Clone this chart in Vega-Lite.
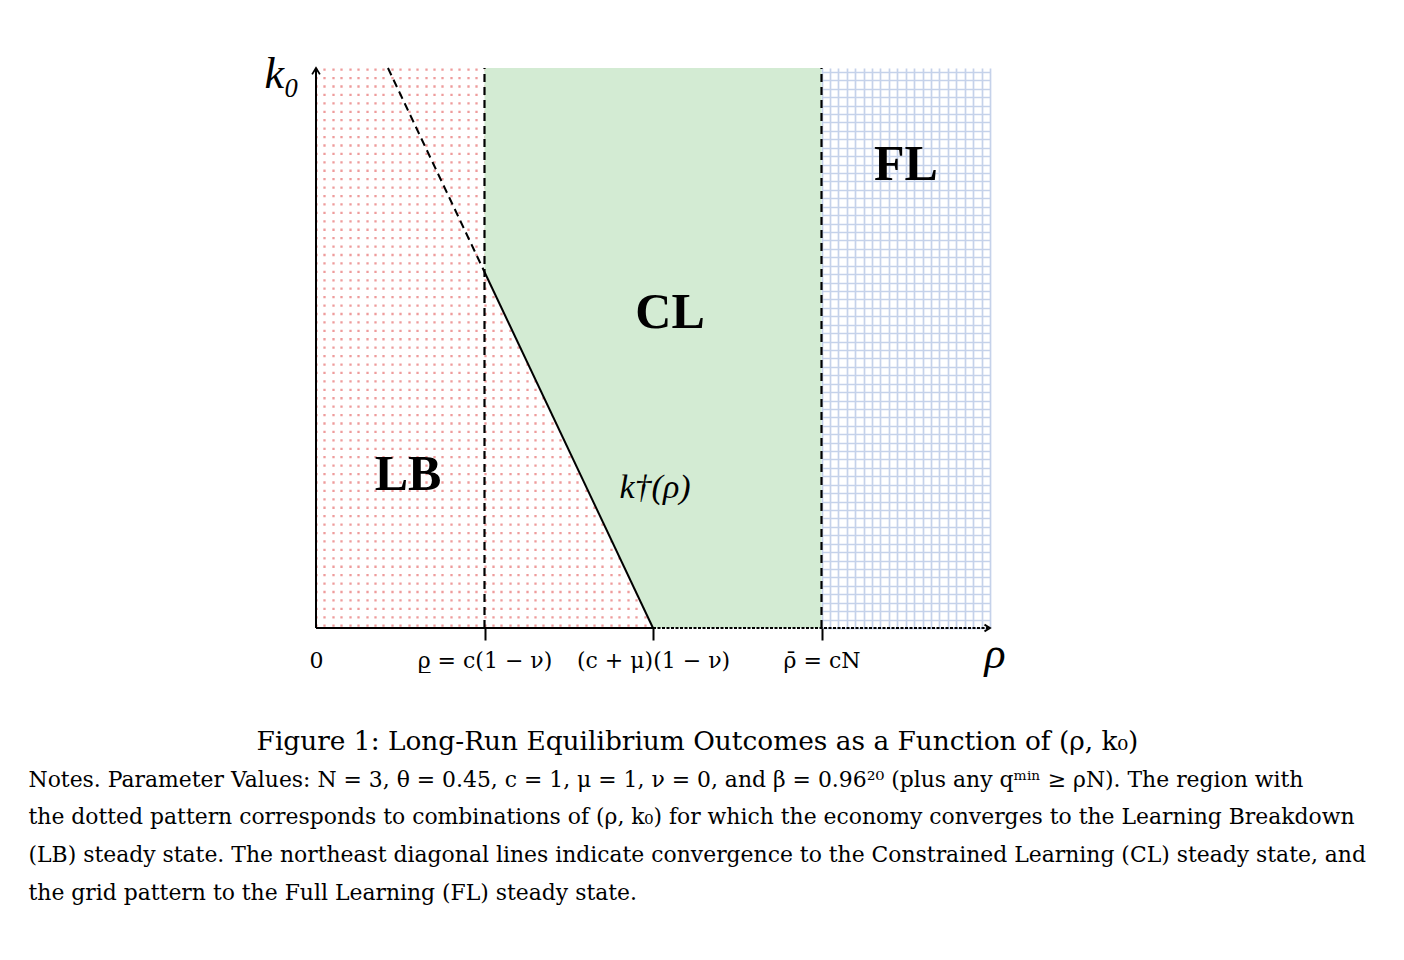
{
  "$schema": "https://vega.github.io/schema/vega-lite/v6.json",
  "width": 674,
  "height": 560,
  "autosize": {"type": "none"},
  "padding": {"left": 316, "top": 68, "right": 414, "bottom": 332},
  "background": "white",
  "config": {"view": {"stroke": null}, "font": "Liberation Serif"},
  "datasets": {
    "cl_region": [
      {"rho": 1, "k": 2.113, "k2": 3.3234},
      {"rho": 2, "k": 0, "k2": 3.3234},
      {"rho": 3, "k": 0, "k2": 3.3234}
    ],
    "boundaries": [
      {"name": "rho_low", "rho": 1, "k": 0, "k2": 3.3234},
      {"name": "rho_bar", "rho": 3, "k": 0, "k2": 3.3234}
    ],
    "curve": [
      {"part": "extension", "rho": 0.427, "k": 3.3234},
      {"part": "extension", "rho": 1, "k": 2.113},
      {"part": "kdagger", "rho": 1, "k": 2.113},
      {"part": "kdagger", "rho": 2, "k": 0}
    ],
    "axislines": [
      {"part": "yaxis", "rho": 0, "k": 0, "rho2": 0, "k2": 3.3234},
      {"part": "xsolid", "rho": 0, "k": 0, "rho2": 2, "k2": 0},
      {"part": "xdashed", "rho": 2, "k": 0, "rho2": 3.99, "k2": 0}
    ],
    "arrows": [
      {"dir": "up", "rho": 0, "k": 3.3234},
      {"dir": "right", "rho": 4, "k": 0}
    ],
    "texts": [
      {"kind": "region", "label": "LB", "rho": 0.546, "k": 0.908},
      {"kind": "region", "label": "CL", "rho": 2.101, "k": 1.869},
      {"kind": "region", "label": "FL", "rho": 3.501, "k": 2.748},
      {"kind": "curve", "label": "k†(ρ)", "rho": 2.012, "k": 0.831},
      {"kind": "axis", "label": "k₀", "rho": -0.202, "k": 3.282},
      {"kind": "axis", "label": "ρ", "rho": 4.03, "k": -0.16}
    ]
  },
  "encoding": {
    "x": {
      "field": "rho",
      "type": "quantitative",
      "scale": {"domain": [0, 4], "nice": false, "zero": false},
      "axis": {
        "tickCount": 80,
        "domain": false,
        "grid": true,
        "gridColor": {"condition": {"test": "datum.value < 2.99", "value": "#ee9c9c"}, "value": "#c5d2ea"},
        "gridDash": {"condition": {"test": "datum.value < 2.99", "value": [2.3, 6.125]}, "value": []},
        "gridWidth": {"condition": {"test": "datum.value < 2.99", "value": 2.3}, "value": 1.7},
        "ticks": true,
        "tickSize": 12,
        "tickWidth": 2,
        "tickColor": "black",
        "tickOpacity": {"condition": {"test": "datum.value == 1 || datum.value == 2 || datum.value == 3", "value": 1}, "value": 0},
        "labelExpr": "datum.value == 0 ? '0' : datum.value == 1 ? 'ρ̲ = c(1 − ν)' : datum.value == 2 ? '(c + μ)(1 − ν)' : datum.value == 3 ? 'ρ̄ = cN' : ''",
        "labelFont": "DejaVu Serif",
        "labelFontSize": 22,
        "labelColor": "black",
        "labelPadding": 10,
        "labelOverlap": false,
        "labelFlush": false,
        "title": "Figure 1: Long-Run Equilibrium Outcomes as a Function of (ρ, k₀)",
        "titleFont": "DejaVu Serif",
        "titleFontSize": 26.4,
        "titleFontWeight": "normal",
        "titleColor": "black",
        "titleX": 381,
        "titleY": 121,
        "titleAlign": "center",
        "titleBaseline": "alphabetic"
      }
    },
    "y": {
      "field": "k",
      "type": "quantitative",
      "scale": {"domain": [0, 3.3234], "nice": false, "zero": false},
      "axis": {
        "tickCount": 67,
        "domain": false,
        "ticks": false,
        "labels": false,
        "grid": true,
        "gridColor": "#c5d2ea",
        "gridWidth": 1.7,
        "gridDash": [0, 505.5, 168.5, 0],
        "title": [
          "Notes. Parameter Values: N = 3, θ = 0.45, c = 1, μ = 1, ν = 0, and β = 0.96²⁰ (plus any qᵐⁱⁿ ≥ ρN). The region with",
          "the dotted pattern corresponds to combinations of (ρ, k₀) for which the economy converges to the Learning Breakdown",
          "(LB) steady state. The northeast diagonal lines indicate convergence to the Constrained Learning (CL) steady state, and",
          "the grid pattern to the Full Learning (FL) steady state."
        ],
        "titleAngle": 0,
        "titleAlign": "left",
        "titleBaseline": "alphabetic",
        "titleX": -288,
        "titleY": 718,
        "titleFont": "DejaVu Serif",
        "titleFontSize": 21.9,
        "titleFontWeight": "normal",
        "titleColor": "black",
        "titleLineHeight": 37.7
      }
    }
  },
  "layer": [
    {
      "data": {"name": "cl_region"},
      "mark": {"type": "area", "fill": "#d3ebd3", "opacity": 1},
      "encoding": {"y2": {"field": "k2"}}
    },
    {
      "data": {"name": "boundaries"},
      "mark": {"type": "rule", "color": "black", "strokeWidth": 2.2, "strokeDash": [8, 5]},
      "encoding": {"y2": {"field": "k2"}}
    },
    {
      "data": {"name": "curve"},
      "transform": [{"filter": "datum.part == 'extension'"}],
      "mark": {"type": "line", "color": "black", "strokeWidth": 2, "strokeDash": [8, 5]},
      "encoding": {}
    },
    {
      "data": {"name": "curve"},
      "transform": [{"filter": "datum.part == 'kdagger'"}],
      "mark": {"type": "line", "color": "black", "strokeWidth": 2},
      "encoding": {}
    },
    {
      "data": {"name": "axislines"},
      "transform": [{"filter": "datum.part != 'xdashed'"}],
      "mark": {"type": "rule", "color": "black", "strokeWidth": 2},
      "encoding": {"x2": {"field": "rho2"}, "y2": {"field": "k2"}}
    },
    {
      "data": {"name": "axislines"},
      "transform": [{"filter": "datum.part == 'xdashed'"}],
      "mark": {"type": "rule", "color": "black", "strokeWidth": 2.2, "strokeDash": [3, 1.5]},
      "encoding": {"x2": {"field": "rho2"}, "y2": {"field": "k2"}}
    },
    {
      "data": {"name": "arrows"},
      "transform": [{"filter": "datum.dir == 'up'"}],
      "mark": {"type": "point", "shape": "M -0.55 0.9 L 0 0 L 0.55 0.9", "filled": false, "stroke": "black", "strokeWidth": 1.8, "size": 200, "opacity": 1},
      "encoding": {}
    },
    {
      "data": {"name": "arrows"},
      "transform": [{"filter": "datum.dir == 'right'"}],
      "mark": {"type": "point", "shape": "M -0.9 -0.55 L 0 0 L -0.9 0.55", "filled": false, "stroke": "black", "strokeWidth": 1.8, "size": 150, "opacity": 1},
      "encoding": {}
    },
    {
      "data": {"name": "texts"},
      "transform": [{"filter": "datum.kind == 'region'"}],
      "mark": {"type": "text", "font": "Liberation Serif", "fontWeight": "bold", "fontSize": 50, "color": "black", "align": "center", "baseline": "middle"},
      "encoding": {"text": {"field": "label"}}
    },
    {
      "data": {"name": "texts"},
      "transform": [{"filter": "datum.kind == 'curve'"}],
      "mark": {"type": "text", "font": "Liberation Serif", "fontStyle": "italic", "fontSize": 34, "color": "black", "align": "center", "baseline": "middle"},
      "encoding": {"text": {"field": "label"}}
    },
    {
      "data": {"name": "texts"},
      "transform": [{"filter": "datum.kind == 'axis'"}],
      "mark": {"type": "text", "font": "Liberation Serif", "fontStyle": "italic", "fontSize": 44, "color": "black", "align": "center", "baseline": "middle"},
      "encoding": {"text": {"field": "label"}}
    }
  ]
}
